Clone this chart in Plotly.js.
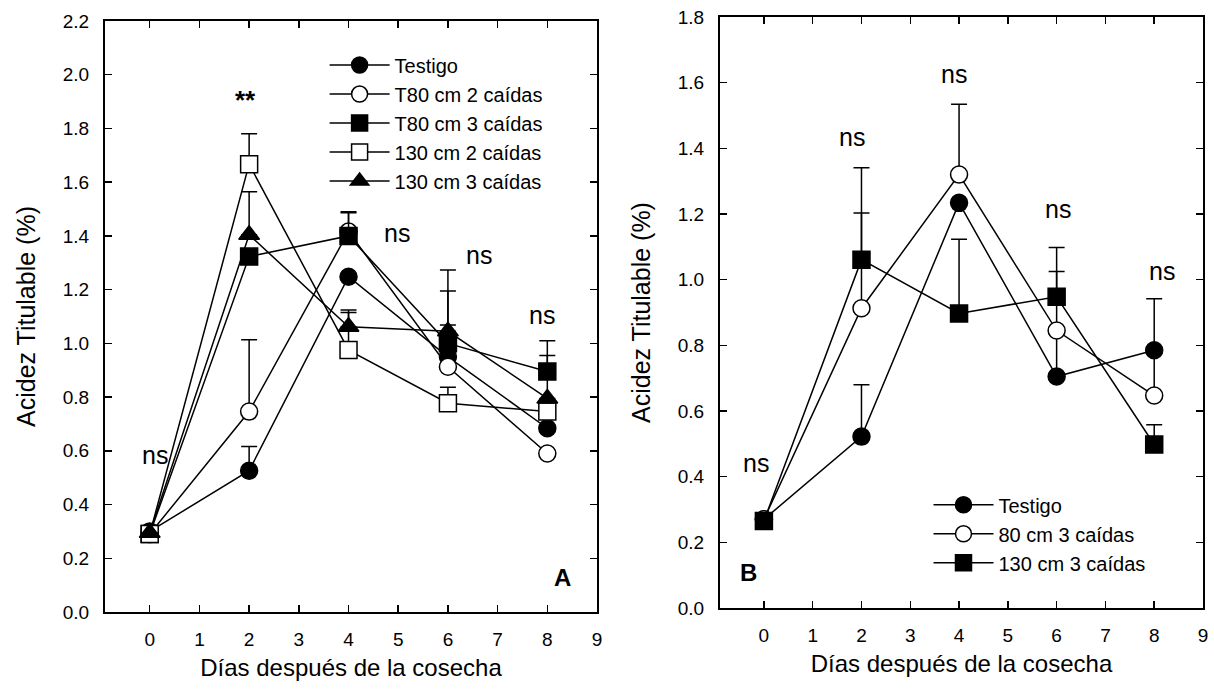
<!DOCTYPE html>
<html><head><meta charset="utf-8">
<script src="https://cdn.plot.ly/plotly-3.0.1.min.js"></script>
<style>html,body{margin:0;padding:0;background:#fff;}#chart{width:1214px;height:690px;}</style>
</head><body><div id="chart"></div>
<script>
// ---- data ----
const days = [0, 2, 4, 6, 8];

// Panel A
const namesA = ["Testigo", "T80 cm 2 caídas", "T80 cm 3 caídas", "130 cm 2 caídas", "130 cm 3 caídas"];
const testigoA   = [0.30, 0.526, 1.248, 0.950, 0.684];
const testigoAerr= [0, 0.090, 0, 0.118, 0];
const t80c2A     = [0.29, 0.746, 1.416, 0.913, 0.590];
const t80c2Aerr  = [0, 0.267, 0.070, 0, 0];
const t80c3A     = [0.29, 1.323, 1.400, 1.000, 0.895];
const t80c3Aerr  = [0, 0, 0.090, 0.195, 0.115];
const c130c2A    = [0.29, 1.667, 0.975, 0.777, 0.746];
const c130c2Aerr = [0, 0.113, 0.140, 0.060, 0];
const c130c3A    = [0.295, 1.404, 1.062, 1.045, 0.795];
const c130c3Aerr = [0, 0.160, 0.062, 0.228, 0.160];

// Panel B
const namesB = ["Testigo", "80 cm 3 caídas", "130 cm 3 caídas"];
const testigoB    = [0.27, 0.522, 1.234, 0.705, 0.785];
const testigoBerr = [0, 0.158, 0, 0.130, 0.157];
const c80c3B      = [0.27, 0.913, 1.320, 0.845, 0.647];
const c80c3Berr   = [0, 0.290, 0.214, 0.180, 0.134];
const c130c3B     = [0.265, 1.061, 0.897, 0.948, 0.498];
const c130c3Berr  = [0, 0.280, 0.226, 0.150, 0.060];

// significance labels
const sigA = {x: [0.11, 1.93, 4.98, 6.62, 7.9], y: [0.585, 1.906, 1.41, 1.33, 1.106], t: ["ns", "**", "ns", "ns", "ns"]};
const sigB = {x: [-0.17, 1.8, 3.9, 6.03, 8.15], y: [0.442, 1.434, 1.625, 1.216, 1.025], t: ["ns", "ns", "ns", "ns", "ns"]};

// ---- style helpers ----
const FONT = "Liberation Sans, Arial, sans-serif";
function trace(name, y, err, sym, fill, xa, ya, legend) {
  return {
    type: "scatter", mode: "lines+markers", name: name, x: days, y: y,
    xaxis: xa, yaxis: ya, legend: legend,
    line: {color: "#000", width: 1.5},
    marker: {symbol: sym, size: sym === "triangle-up" ? 18 : 17, color: fill, line: {color: "#000", width: 1.5}},
    error_y: {type: "data", array: err, arrayminus: err.map(() => 0), symmetric: false, color: "#000", thickness: 1.5, width: 8},
    cliponaxis: false
  };
}

const data = [
  trace(namesA[0], testigoA, testigoAerr, "circle", "#000", "x", "y", "legend"),
  trace(namesA[1], t80c2A, t80c2Aerr, "circle", "#fff", "x", "y", "legend"),
  trace(namesA[2], t80c3A, t80c3Aerr, "square", "#000", "x", "y", "legend"),
  trace(namesA[3], c130c2A, c130c2Aerr, "square", "#fff", "x", "y", "legend"),
  trace(namesA[4], c130c3A, c130c3Aerr, "triangle-up", "#000", "x", "y", "legend"),
  trace(namesB[0], testigoB, testigoBerr, "circle", "#000", "x2", "y2", "legend2"),
  trace(namesB[1], c80c3B, c80c3Berr, "circle", "#fff", "x2", "y2", "legend2"),
  trace(namesB[2], c130c3B, c130c3Berr, "square", "#000", "x2", "y2", "legend2")
];

function xaxis(domain, anchor) {
  return {
    domain: domain, anchor: anchor, range: [-0.9, 9], dtick: 1, tick0: 0,
    showline: true, linecolor: "#000", linewidth: 2, mirror: "ticks",
    ticks: "inside", ticklen: 7, tickwidth: 1.5, tickcolor: "#000",
    showgrid: false, zeroline: false, ticklabelstandoff: 9,
    tickfont: {family: FONT, size: 19, color: "#000"},
    title: {text: "Días después de la cosecha", font: {family: FONT, size: 24, color: "#000"}, standoff: 10}
  };
}
function yaxis(domain, anchor, max) {
  return {
    domain: domain, anchor: anchor, range: [0, max], dtick: 0.2, tick0: 0, tickformat: ".1f",
    showline: true, linecolor: "#000", linewidth: 2, mirror: "ticks",
    ticks: "inside", ticklen: 7, tickwidth: 1.5, tickcolor: "#000",
    showgrid: false, zeroline: false, ticklabelstandoff: 10,
    tickfont: {family: FONT, size: 19, color: "#000"},
    title: {text: "Acidez Titulable (%)", font: {family: FONT, size: 25, color: "#000"}, standoff: 20}
  };
}

const annotations = [];
sigA.t.forEach((t, i) => annotations.push({xref: "x", yref: "y", x: sigA.x[i], y: sigA.y[i],
  text: t === "**" ? "<b>**</b>" : t, showarrow: false,
  font: {family: FONT, size: t === "**" ? 26 : 25, color: "#000"}}));
sigB.t.forEach((t, i) => annotations.push({xref: "x2", yref: "y2", x: sigB.x[i], y: sigB.y[i], text: t, showarrow: false,
  font: {family: FONT, size: 25, color: "#000"}}));
annotations.push({xref: "x", yref: "y", x: 8.3, y: 0.127, text: "<b>A</b>", showarrow: false, font: {family: FONT, size: 24, color: "#000"}});
annotations.push({xref: "x2", yref: "y2", x: -0.31, y: 0.107, text: "<b>B</b>", showarrow: false, font: {family: FONT, size: 24, color: "#000"}});

const layout = {
  width: 1214, height: 690,
  margin: {l: 105, r: 11, t: 17, b: 78},
  paper_bgcolor: "#fff", plot_bgcolor: "#fff",
  font: {family: FONT, color: "#000"},
  xaxis: xaxis([0, 0.4481], "y"),
  yaxis: yaxis([0, 0.9933], "x", 2.2),
  xaxis2: xaxis([0.5601, 1], "y2"),
  yaxis2: yaxis([0.0067, 1], "x2", 1.8),
  legend: {x: 0.2, y: 0.952, xanchor: "left", yanchor: "top", xref: "paper", yref: "paper", itemwidth: 60,
    font: {family: FONT, size: 20, color: "#000"}, bgcolor: "rgba(0,0,0,0)", tracegroupgap: 0},
  legend2: {x: 0.75, y: 0.213, xanchor: "left", yanchor: "top", xref: "paper", yref: "paper", itemwidth: 60,
    font: {family: FONT, size: 20, color: "#000"}, bgcolor: "rgba(0,0,0,0)", tracegroupgap: 0},
  showlegend: true,
  annotations: annotations
};

Plotly.newPlot("chart", data, layout, {displayModeBar: false, staticPlot: true});
</script>
</body></html>
